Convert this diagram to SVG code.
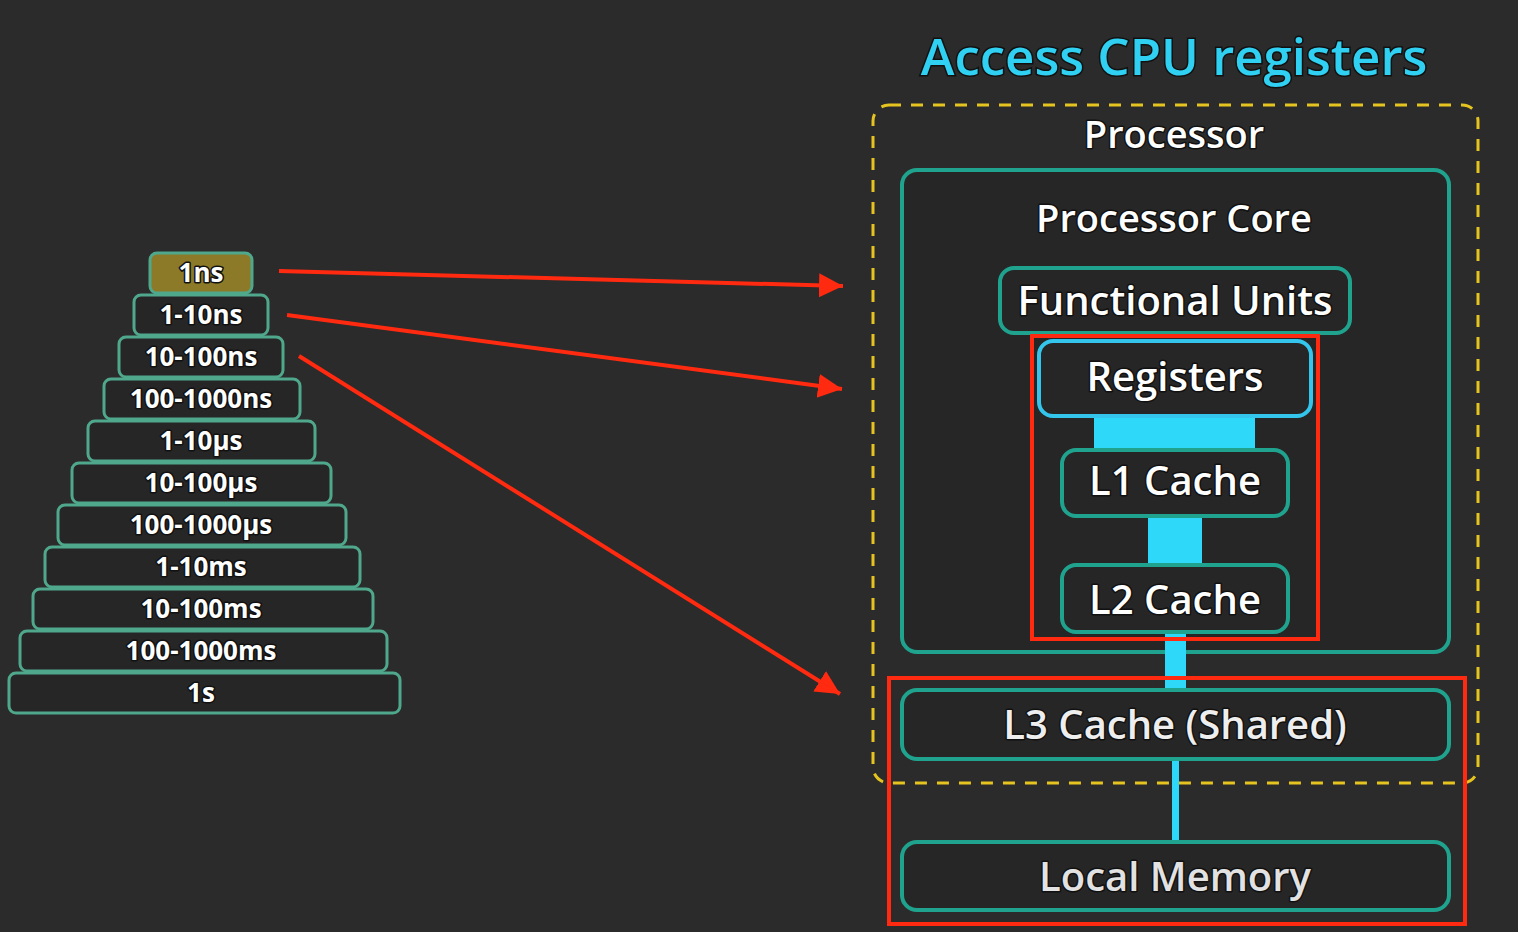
<svg xmlns="http://www.w3.org/2000/svg" width="1518" height="932" viewBox="0 0 1518 932">
<defs>
<style>
.bg{fill:#2b2b2b}
.pb{fill:#262626;stroke:#4fa88c;stroke-width:3}
.pt{font-family:"Open Sans","Noto Sans",sans-serif;font-weight:700;font-size:26px;fill:#ffffff;text-anchor:middle;stroke:#111;stroke-width:3;paint-order:stroke;stroke-linejoin:round}
.node{fill:#262626;stroke:#1fa38e;stroke-width:4}
.nt{font-family:"Open Sans","Noto Sans",sans-serif;font-weight:600;font-size:38px;fill:#ffffff;text-anchor:middle;stroke:#111;stroke-width:3;paint-order:stroke;stroke-linejoin:round}
.nl{font-size:40px}
.hl{fill:none;stroke:#ff2a10;stroke-width:4}
.arr{stroke:#ff2a10;stroke-width:4;fill:none}
.bus{fill:#2ed8f8}
</style>
<marker id="ah" markerWidth="8" markerHeight="8" refX="6" refY="3" orient="auto" markerUnits="strokeWidth" viewBox="0 0 8 6">
<path d="M0,0 L6,3 L0,6 Z" fill="#ff2a10"/>
</marker>
</defs>
<rect class="bg" x="0" y="0" width="1518" height="932"/>

<g id="pyramid">
<g id="p1"><rect x="150" y="253" width="102" height="40" rx="7" fill="#8c7a28" stroke="#4fa88c" stroke-width="3"/><text class="pt" x="201" y="282">1ns</text></g>
<g id="p2"><rect class="pb" x="134" y="295" width="134" height="40" rx="7"/><text class="pt" x="201" y="324">1-10ns</text></g>
<g id="p3"><rect class="pb" x="119" y="337" width="164" height="40" rx="7"/><text class="pt" x="201" y="366">10-100ns</text></g>
<g id="p4"><rect class="pb" x="104" y="379" width="196" height="40" rx="7"/><text class="pt" x="201" y="408">100-1000ns</text></g>
<g id="p5"><rect class="pb" x="88" y="421" width="227" height="40" rx="7"/><text class="pt" x="201" y="450">1-10µs</text></g>
<g id="p6"><rect class="pb" x="72" y="463" width="259" height="40" rx="7"/><text class="pt" x="201" y="492">10-100µs</text></g>
<g id="p7"><rect class="pb" x="58" y="505" width="288" height="40" rx="7"/><text class="pt" x="201" y="534">100-1000µs</text></g>
<g id="p8"><rect class="pb" x="45" y="547" width="315" height="40" rx="7"/><text class="pt" x="201" y="576">1-10ms</text></g>
<g id="p9"><rect class="pb" x="33" y="589" width="340" height="40" rx="7"/><text class="pt" x="201" y="618">10-100ms</text></g>
<g id="p10"><rect class="pb" x="20" y="631" width="367" height="40" rx="7"/><text class="pt" x="201" y="660">100-1000ms</text></g>
<g id="p11"><rect class="pb" x="9" y="673" width="391" height="40" rx="7"/><text class="pt" x="201" y="702">1s</text></g>
</g>

<g id="title"><text x="1174" y="75" font-family="'Open Sans','Noto Sans',sans-serif" font-weight="600" font-size="51" fill="#2fd0f2" text-anchor="middle" stroke="#111" stroke-width="3" paint-order="stroke">Access CPU registers</text></g>

<g id="processor">
<rect x="873" y="105" width="605" height="678" rx="16" fill="none" stroke="#e6c420" stroke-width="3" stroke-dasharray="12 10"/>
<text class="nt" x="1174" y="148">Processor</text>
</g>

<g id="core">
<rect class="node" x="902" y="170" width="547" height="482" rx="15"/>
<text class="nt" x="1174" y="232">Processor Core</text>
</g>

<g id="connectors">
<rect class="bus" x="1094" y="414" width="161" height="38"/>
<rect class="bus" x="1148" y="514" width="54" height="53"/>
<rect class="bus" x="1165" y="630" width="21" height="62"/>
<rect class="bus" x="1172" y="757" width="7" height="87"/>
<line class="arr" x1="279" y1="271" x2="843" y2="286" marker-end="url(#ah)"/>
<line class="arr" x1="287" y1="315" x2="842" y2="389" marker-end="url(#ah)"/>
<line class="arr" x1="299" y1="356" x2="840" y2="694" marker-end="url(#ah)"/>
</g>

<g id="functional-units">
<rect class="node" x="1000" y="268" width="350" height="65" rx="14"/>
<text class="nt nl" x="1175" y="315">Functional Units</text>
</g>

<g id="registers">
<rect x="1039" y="341" width="272" height="75" rx="14" fill="#262626" stroke="#33c5ec" stroke-width="4"/>
<text class="nt nl" x="1175" y="391">Registers</text>
</g>

<g id="l1">
<rect class="node" x="1062" y="450" width="226" height="66" rx="14"/>
<text class="nt nl" x="1175" y="495">L1 Cache</text>
</g>

<g id="l2">
<rect class="node" x="1062" y="565" width="226" height="67" rx="14"/>
<text class="nt nl" x="1175" y="614">L2 Cache</text>
</g>

<g id="l3">
<rect class="node" x="902" y="690" width="547" height="69" rx="15"/>
<text class="nt nl" x="1175" y="739" style="fill:#eeeeee">L3 Cache (Shared)</text>
</g>

<g id="local-memory">
<rect class="node" x="902" y="842" width="547" height="68" rx="15"/>
<text class="nt nl" x="1175" y="891" style="fill:#e2e2e2">Local Memory</text>
</g>

<g id="highlights">
<rect class="hl" x="1032" y="336" width="286" height="303"/>
<rect class="hl" x="889" y="678" width="576" height="246"/>
</g>
</svg>
